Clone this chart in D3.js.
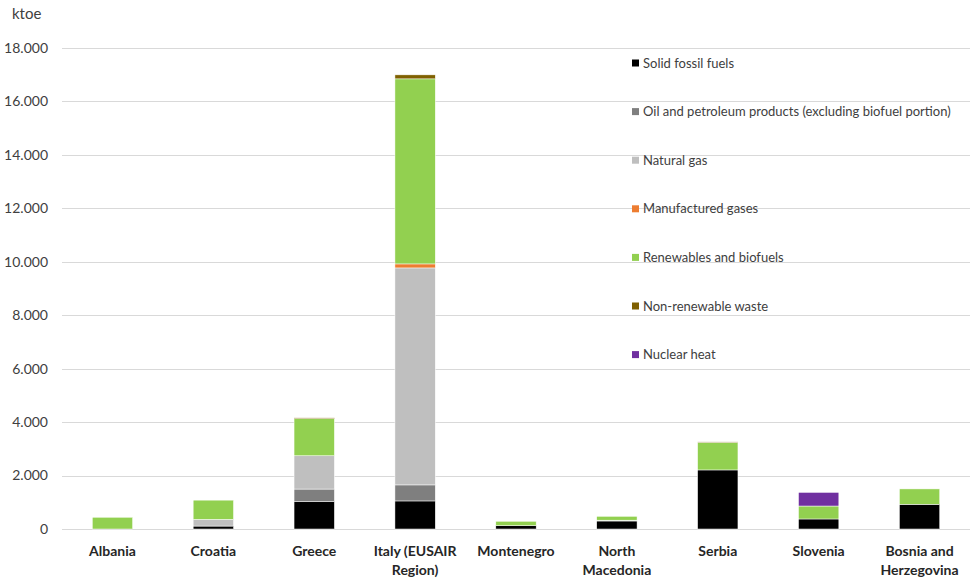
<!DOCTYPE html>
<html>
<head>
<meta charset="utf-8">
<script src="https://cdn.jsdelivr.net/npm/d3@7"></script>
<style>
  html, body { margin: 0; padding: 0; background: #fff; }
  svg { display: block; font-family: Lato, "Open Sans", sans-serif; }
</style>
</head>
<body>
<svg id="chart" width="974" height="580"></svg>
<script>
// Gross inland energy consumption by fuel, ktoe
const categories = ["Albania", "Croatia", "Greece", "Italy (EUSAIR Region)", "Montenegro",
  "North Macedonia", "Serbia", "Slovenia", "Bosnia and Herzegovina"];
const categoryLines = [["Albania"], ["Croatia"], ["Greece"], ["Italy (EUSAIR", "Region)"], ["Montenegro"],
  ["North", "Macedonia"], ["Serbia"], ["Slovenia"], ["Bosnia and", "Herzegovina"]];

const seriesNames = ["Solid fossil fuels", "Oil and petroleum products (excluding biofuel portion)",
  "Natural gas", "Manufactured gases", "Renewables and biofuels", "Non-renewable waste", "Nuclear heat"];
const seriesColors = ["#000000", "#7f7f7f", "#bfbfbf", "#ed7d31", "#92d050", "#7f6000", "#7030a0"];

const solidFossil   = [0,   110,  1020, 1050, 125, 300,  2210, 375, 925];
const oilPetroleum  = [0,   0,    475,  600,  0,   0,    0,    0,   0];
const naturalGas    = [0,   250,  1245, 8120, 0,   30,   0,    0,   0];
const manufactured  = [0,   0,    0,    150,  0,   0,    0,    0,   0];
const renewables    = [440, 720,  1390, 6925, 165, 145,  1030, 485, 575];
const nonRenewWaste = [0,   0,    30,   150,  0,   0,    20,   0,   0];
const nuclearHeat   = [0,   0,    0,    0,    0,   0,    0,    510, 0];

const yTicks = [0, 2000, 4000, 6000, 8000, 10000, 12000, 14000, 16000, 18000];
const yUnit = "ktoe";

const seriesValues = [solidFossil, oilPetroleum, naturalGas, manufactured, renewables, nonRenewWaste, nuclearHeat];

const rows = categories.map((c, i) => {
  const r = { category: c };
  seriesNames.forEach((s, k) => { r[s] = seriesValues[k][i]; });
  return r;
});

const svg = d3.select("#chart");
const margin = { left: 62, right: 4, top: 48, bottom: 51 };
const W = 974, H = 580;

const x = d3.scaleBand().domain(categories)
  .range([margin.left, W - margin.right]).paddingInner(0.6).paddingOuter(0.3);
const y = d3.scaleLinear().domain([0, 18000]).range([H - margin.bottom, margin.top]);

const locale = d3.formatLocale({ decimal: ",", thousands: ".", grouping: [3], currency: ["", ""] });
const fmt = locale.format(",");

// gridlines
svg.append("g").selectAll("line").data(yTicks).join("line")
  .attr("x1", margin.left).attr("x2", W - margin.right)
  .attr("y1", d => Math.round(y(d)) + 0.5).attr("y2", d => Math.round(y(d)) + 0.5)
  .attr("stroke", "#d9d9d9").attr("stroke-width", 1);

// y tick labels
svg.append("g").selectAll("text").data(yTicks).join("text")
  .attr("x", 48).attr("y", d => y(d)).attr("dy", "0.35em")
  .attr("text-anchor", "end").attr("font-size", 14).attr("fill", "#404040")
  .text(d => fmt(d));

svg.append("text").attr("x", 12).attr("y", 19).attr("font-size", 15).attr("fill", "#404040").text(yUnit);

// stacked bars
const stack = d3.stack().keys(seriesNames)(rows);
svg.append("g").selectAll("g").data(stack).join("g")
  .attr("fill", (d, i) => seriesColors[i])
  .selectAll("rect").data(d => d.filter(p => p[1] - p[0] > 0)).join("rect")
  .attr("x", d => x(d.data.category))
  .attr("width", x.bandwidth())
  .attr("y", d => y(d[1]))
  .attr("height", d => y(d[0]) - y(d[1]))
  .attr("stroke", "#ffffff").attr("stroke-width", 0.5);

// category labels
const cl = svg.append("g").selectAll("text").data(categories).join("text")
  .attr("text-anchor", "middle").attr("font-size", 14).attr("font-weight", "bold").attr("fill", "#262626")
  .attr("x", d => x(d) + x.bandwidth() / 2).attr("y", 556);
cl.selectAll("tspan").data((d, i) => categoryLines[i]).join("tspan")
  .attr("x", function () { return d3.select(this.parentNode).attr("x"); })
  .attr("dy", (d, i) => i === 0 ? 0 : 19)
  .text(d => d);

// legend
const leg = svg.append("g").selectAll("g").data(seriesNames).join("g")
  .attr("transform", (d, i) => `translate(632, ${63 + i * 48.6})`);
leg.append("rect").attr("x", 0).attr("y", -3.5).attr("width", 7).attr("height", 7)
  .attr("fill", (d, i) => seriesColors[i]);
leg.append("text").attr("x", 11).attr("dy", "0.35em").attr("font-size", 13).attr("fill", "#404040")
  .text(d => d);
</script>
</body>
</html>
